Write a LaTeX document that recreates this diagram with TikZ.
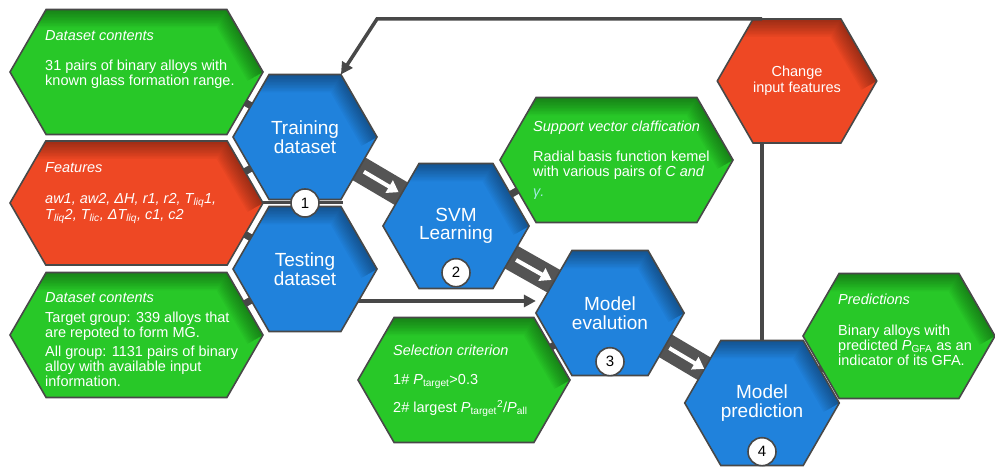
\documentclass[tikz,border=0pt]{standalone}
\usepackage{fontspec}
\setmainfont{Liberation Sans}
\usetikzlibrary{shapes.symbols,arrows.meta,calc,backgrounds,positioning}

\definecolor{hexgreen}{RGB}{40,200,40}
\definecolor{hexred}{RGB}{238,72,36}
\definecolor{hexblue}{RGB}{32,130,220}
\definecolor{hexline}{RGB}{72,72,72}
\definecolor{bandgray}{RGB}{84,84,84}
\definecolor{gammacyan}{RGB}{160,235,225}

\tikzset{
  hexa/.style={signal, signal to=west and east, signal pointer angle=120,
    draw=hexline, line width=1.6pt, inner sep=0pt, outer sep=0pt,
    path picture={
      \foreach \w in {3,6,...,36}
        \draw[black, opacity=0.03, line width=\w pt, line join=round]
          (path picture bounding box.north west)
          -- ($(path picture bounding box.north east)+(-36,0)$)
          -- (path picture bounding box.east);
    }},
  stephex/.style={hexa, fill=hexblue, minimum width=144pt, minimum height=125pt,
    text=white, align=center, font=\fontsize{19}{18.5}\selectfont},
  infohex/.style={hexa, fill=hexgreen, minimum height=125pt},
  warnhex/.style={hexa, fill=hexred, minimum height=124pt},
  infotext/.style={anchor=north west, inner sep=0pt, align=left, text=white,
    font=\fontsize{14.5}{15}\selectfont},
  stepnum/.style={circle, draw=hexline, line width=1.6pt, fill=white,
    minimum size=28pt, inner sep=0pt, font=\fontsize{15}{15}\selectfont},
  band/.style={bandgray, line width=26pt},
  bandarrow/.style={white, line width=4pt, -{Triangle[length=11pt,width=14pt]}},
  flow/.style={hexline, line width=3.5pt, -{Triangle[length=12pt,width=12pt]}},
  stub/.style={hexline, line width=7pt},
}

\begin{document}
\begin{tikzpicture}[x=1pt,y=1pt]
  \useasboundingbox (0,0) rectangle (995,470);
  % input side
  \node[infohex, minimum width=253pt] (ds1) at (136.5,398) {};
  \node[warnhex, minimum width=253pt] (feat) at (136.5,267) {};
  \node[infohex, minimum width=253pt] (ds2) at (136.5,135) {};
  % the four steps
  \node[stephex] (train) at (305,333) {Training\\dataset};
  \node[stephex] (test) at (305,201) {Testing\\dataset};
  \node[stephex] (svm) at (456,244) {SVM\\Learning};
  \node[stephex] (eval) at (610,157) {Model\\evalution};
  \node[stephex] (pred) at (762,67) {Model\\prediction};
  \node[warnhex, minimum width=144pt, text=white, align=center,
    font=\fontsize{14.5}{15.5}\selectfont] (chg) at (797,389) {Change\\input features};
  % notes
  \node[infohex, minimum width=233pt] (svc) at (616.5,310) {};
  \node[infohex, minimum width=212pt] (sel) at (464,90) {};
  \node[infohex, minimum width=192pt] (outp) at (899,134) {};
  %
  \node[infotext] (ds1t) at (45,440)
    {\textit{Dataset contents}\\[15pt]31 pairs of binary alloys with\\known glass formation range.};
  \node[infotext] (featt) at (45,308)
    {\textit{Features}\\[16pt]\textit{aw1, aw2, ΔH, r1, r2, T\textsubscript{liq}1,}\\[1pt]
     \textit{T\textsubscript{liq}2, T\textsubscript{lic}, ΔT\textsubscript{liq}, c1, c2}};
  \node[infotext] (ds2t) at (45,178)
    {\textit{Dataset contents}\\[5pt]Target group: 339 alloys that\\are repoted to form MG.\\[4pt]
     All group: 1131 pairs of binary\\alloy with available input\\information.};
  \node[infotext] (svct) at (533,349)
    {\textit{Support vector claffication}\\[15pt]Radial basis function kemel\\
     with various pairs of \textit{C and}\\[5pt]\textcolor{gammacyan}{\textit{γ.}}};
  \node[infotext] (selt) at (393,125)
    {\textit{Selection criterion}\\[14pt]1\# \textit{P}\textsubscript{target}>0.3\\[10pt]
     2\# largest \textit{P}\textsubscript{target}\textsuperscript{2}/\textit{P}\textsubscript{all}};
  \node[infotext] (predt) at (838,176)
    {\textit{Predictions}\\[16pt]Binary alloys with\\predicted \textit{P}\textsubscript{GFA} as an\\
     indicator of its GFA.};
  %
  \begin{pgfonlayer}{background}
    \draw[band] (train.center) -- (svm.center);
    \draw[band] (svm.center) -- (eval.center);
    \draw[band] (eval.center) -- (pred.center);
    \draw[stub] (train.center) -- ++(150:80);
    \draw[stub] (train.center) -- ++(210:80);
    \draw[stub] (test.center) -- ++(150:80);
    \draw[stub] (test.center) -- ++(210:80);
    \draw[stub] (svm.center) -- ++(30:80);
    \draw[stub] (eval.center) -- ++(210:80);
    \draw[stub] (pred.center) -- ++(30:80);
    \draw[hexline, line width=3pt] (feat.east) -- ++(80,0);
    \draw[flow] ([yshift=-32pt]test.center) -- ([yshift=-32pt]test.center -| eval.west);
  \end{pgfonlayer}
  %
  \draw[bandarrow] ($(train)!0.39!(svm)$) -- ($(train)!0.62!(svm)$);
  \draw[bandarrow] ($(svm)!0.39!(eval)$) -- ($(svm)!0.62!(eval)$);
  \draw[bandarrow] ($(eval)!0.39!(pred)$) -- ($(eval)!0.62!(pred)$);
  %
  \node[stepnum] (n1) at ($(train.south)!0.5!(test.north)$) {1};
  \node[stepnum, above=1pt of svm.south] (n2) {2};
  \node[stepnum, above=-1pt of eval.south] (n3) {3};
  \node[stepnum, above=-1pt of pred.south] (n4) {4};
  % feedback loop
  \draw[hexline, line width=3.5pt] (pred.north) -- (pred.north |- chg.south);
  \draw[flow] (pred.north |- chg.north) -- ++(-385,0) -- (train.north east);
\end{tikzpicture}
\end{document}
